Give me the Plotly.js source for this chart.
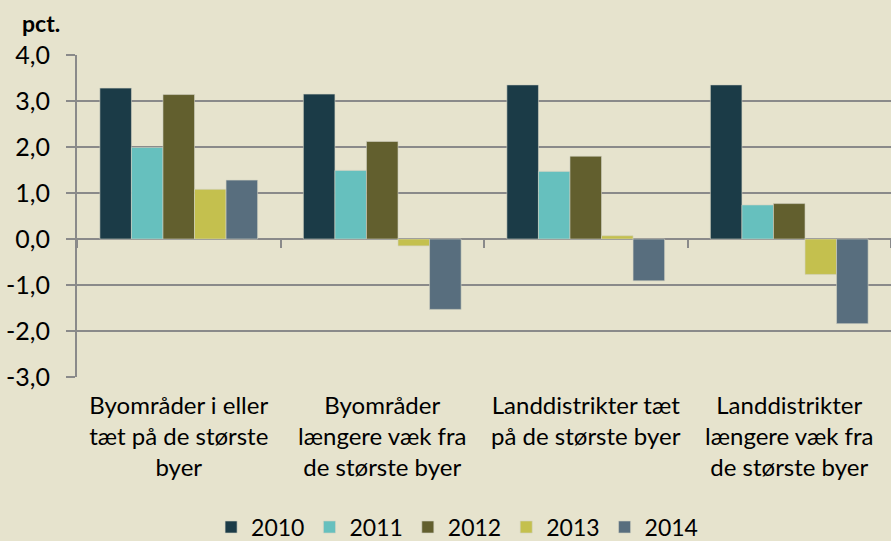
<!DOCTYPE html>
<html>
<head>
<meta charset="utf-8">
<script src="https://cdn.plot.ly/plotly-3.0.1.min.js"></script>
<style>html,body{margin:0;padding:0;background:#E6E3CD;}</style>
</head>
<body>
<div id="chart" style="width:891px;height:541px;"></div>
<script>
const categories = [
  "Byområder i eller<br>tæt på de største<br>byer",
  "Byområder<br>længere væk fra<br>de største byer",
  "Landdistrikter tæt<br>på de største byer",
  "Landdistrikter<br>længere væk fra<br>de største byer"
];
const years = ["2010", "2011", "2012", "2013", "2014"];
const v2010 = [3.28, 3.15, 3.35, 3.35];
const v2011 = [1.99, 1.49, 1.47, 0.74];
const v2012 = [3.14, 2.12, 1.80, 0.77];
const v2013 = [1.08, -0.15, 0.07, -0.77];
const v2014 = [1.28, -1.53, -0.91, -1.84];
const yTicks = [-3, -2, -1, 0, 1, 2, 3, 4];
const yTickText = ["-3,0", "-2,0", "-1,0", "0,0", "1,0", "2,0", "3,0", "4,0"];

const series = [v2010, v2011, v2012, v2013, v2014];
const colors = ["#1B3B47", "#66C0BE", "#625F2E", "#C4C04E", "#586E7E"];
const FONT = "Lato, 'Open Sans', sans-serif";

const traces = series.map((vals, i) => ({
  type: "bar",
  name: years[i],
  x: categories,
  y: vals,
  xaxis: "x",
  marker: { color: colors[i], line: { color: "rgba(210,210,195,0.6)", width: 1 } },
  hoverinfo: "skip"
}));
// invisible helper trace so the label axis (x2) is drawn
traces.push({
  type: "scatter", mode: "markers", x: categories, y: categories.map(() => null),
  xaxis: "x2", yaxis: "y", showlegend: false, hoverinfo: "skip",
  marker: { opacity: 0 }
});

const layout = {
  width: 891, height: 541,
  paper_bgcolor: "#E6E3CD", plot_bgcolor: "#E6E3CD",
  margin: { l: 77, r: 0, t: 55, b: 164, autoexpand: false },
  barmode: "group", bargap: 0.225, bargroupgap: 0,
  font: { family: FONT, size: 22, color: "#000" },
  showlegend: true,
  legend: {
    orientation: "h", x: 0.513, xref: "container", xanchor: "center",
    y: -0.466, yref: "paper", yanchor: "middle",
    font: { family: FONT, size: 23, color: "#000" },
    traceorder: "normal", itemwidth: 30
  },
  xaxis: {
    type: "category", anchor: "free", position: 3 / 7,
    categoryorder: "array", categoryarray: categories,
    range: [-0.5, 3.5], showticklabels: false, showgrid: false, zeroline: false,
    showline: false, ticks: "outside", tickson: "boundaries", ticklen: 8,
    tickcolor: "#8a8a8a", tickwidth: 2
  },
  xaxis2: {
    overlaying: "x", anchor: "y", side: "bottom", type: "category",
    categoryorder: "array", categoryarray: categories,
    range: [-0.5, 3.5],
    showgrid: false, zeroline: false, showline: false, ticks: "",
    ticklabelstandoff: 12, tickfont: { family: FONT, size: 24, color: "#000" }
  },
  yaxis: {
    range: [-3, 4], tickmode: "array", tickvals: yTicks, ticktext: yTickText,
    showgrid: true, gridcolor: "#8a8a8a", gridwidth: 2,
    zeroline: true, zerolinecolor: "#8a8a8a", zerolinewidth: 2,
    showline: true, linecolor: "#8a8a8a", linewidth: 2,
    ticks: "outside", ticklen: 9, tickcolor: "#8a8a8a", tickwidth: 2,
    ticklabelstandoff: 11, tickfont: { family: FONT, size: 25, color: "#000" }
  },
  annotations: [{
    text: "<b>pct.</b>", xref: "paper", yref: "paper",
    x: -0.07, xanchor: "left", y: 1.1, yanchor: "middle",
    showarrow: false, font: { family: FONT, size: 23, color: "#000" }
  }]
};

Plotly.newPlot("chart", traces, layout, { staticPlot: true, displayModeBar: false });
</script>
</body>
</html>
